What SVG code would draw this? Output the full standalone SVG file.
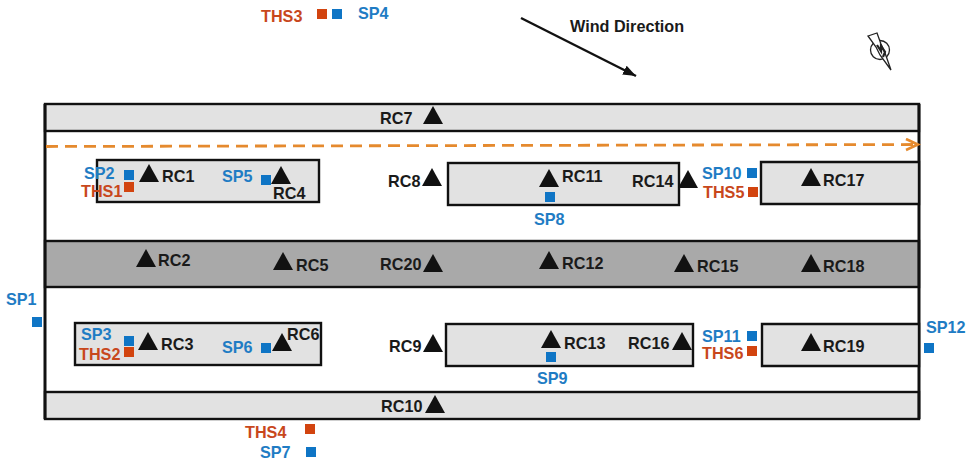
<svg xmlns="http://www.w3.org/2000/svg" width="975" height="462" viewBox="0 0 975 462">
<style>
text{font-family:"Liberation Sans",Arial,sans-serif;font-size:16.2px;font-weight:700;fill:#1a1a1a}
.b{fill:#1f7cc4}.o{fill:#c8471c}
.sb{fill:#0f75c5}.so{fill:#d2440f}
.light{fill:#e2e2e2;stroke:#111;stroke-width:2.4}
.dark{fill:#a9a9a9;stroke:#111;stroke-width:2.4}
.tri{fill:#111}
</style>
<defs>
<path id="t" class="tri" d="M0-10L10 8H-10Z"/>
<rect id="sq" x="-5" y="-5" width="10" height="10"/>
<marker id="ah" markerWidth="16" markerHeight="14" refX="13" refY="7" orient="auto" markerUnits="userSpaceOnUse"><path d="M1 1.500L13 7L1 12.500" fill="none" stroke="#e58a2e" stroke-width="2.600"/></marker>
<marker id="wh" markerWidth="14" markerHeight="12" refX="13" refY="5" orient="auto" markerUnits="userSpaceOnUse"><path d="M0 0L13 5L0 10Z" fill="#111"/></marker>
</defs>
<g id="site">
<rect x="45" y="104" width="874" height="27" class="light"/>
<rect x="45" y="241" width="874" height="46" class="dark"/>
<rect x="45" y="392" width="874" height="27" class="light"/>
<path d="M45 104V419M919 104V419" fill="none" stroke="#111" stroke-width="3"/>
</g>
<g id="blocks">
<rect id="block-1" x="97" y="160" width="222" height="42" class="light"/>
<rect id="block-2" x="448" y="163" width="231" height="42" class="light"/>
<path id="block-3" d="M919 162H761V204H919Z" class="light"/>
<rect id="block-4" x="75" y="323" width="246" height="42" class="light"/>
<rect id="block-5" x="446" y="324" width="247" height="42" class="light"/>
<path id="block-6" d="M919 324H762V366H919Z" class="light"/>
</g>
<g id="connectors">
<line x1="46" y1="146.500" x2="918" y2="144.500" stroke="#e58a2e" stroke-width="2.800" stroke-dasharray="12 7" marker-end="url(#ah)"/>
<line x1="521" y1="18" x2="636" y2="76" stroke="#111" stroke-width="2.400" marker-end="url(#wh)"/>
</g>
<g id="wind"><text x="570" y="32">Wind Direction</text></g>
<g id="north" fill="none" stroke="#222" stroke-width="1.300">
<circle cx="880" cy="50" r="9.500"/>
<path d="M868 36L877 33L881 44L885 53L891 70L880 55L876 47Z" fill="#fff"/>
<path d="M877 45L881 51L881 46L885 52L883 57" stroke-width="2.200"/>
</g>
<g id="RC1"><use href="#t" x="149" y="174"/><text x="162" y="182">RC1</text></g>
<g id="RC2"><use href="#t" x="146" y="259"/><text x="158" y="266">RC2</text></g>
<g id="RC3"><use href="#t" x="148" y="342"/><text x="161" y="350">RC3</text></g>
<g id="RC4"><use href="#t" x="281" y="176"/><text x="273" y="199">RC4</text></g>
<g id="RC5"><use href="#t" x="283" y="262"/><text x="296" y="271">RC5</text></g>
<g id="RC6"><use href="#t" x="282" y="343"/><text x="287" y="340">RC6</text></g>
<g id="RC7"><use href="#t" x="433" y="116"/><text x="380" y="124">RC7</text></g>
<g id="RC8"><use href="#t" x="432" y="178"/><text x="388" y="187">RC8</text></g>
<g id="RC9"><use href="#t" x="433" y="344"/><text x="389" y="352">RC9</text></g>
<g id="RC10"><use href="#t" x="435" y="405"/><text x="381" y="412">RC10</text></g>
<g id="RC11"><use href="#t" x="549" y="179"/><text x="562" y="182">RC11</text></g>
<g id="RC12"><use href="#t" x="549" y="261"/><text x="562" y="269">RC12</text></g>
<g id="RC13"><use href="#t" x="551" y="340"/><text x="564" y="349">RC13</text></g>
<g id="RC14"><use href="#t" x="688" y="180"/><text x="632" y="187">RC14</text></g>
<g id="RC15"><use href="#t" x="684" y="264"/><text x="697" y="272">RC15</text></g>
<g id="RC16"><use href="#t" x="682" y="342"/><text x="628" y="349">RC16</text></g>
<g id="RC17"><use href="#t" x="811" y="178"/><text x="823" y="186">RC17</text></g>
<g id="RC18"><use href="#t" x="811" y="264"/><text x="823" y="272">RC18</text></g>
<g id="RC19"><use href="#t" x="811" y="343"/><text x="823" y="352">RC19</text></g>
<g id="RC20"><use href="#t" x="433" y="264"/><text x="380" y="270">RC20</text></g>
<g id="SP1"><use href="#sq" class="sb" x="37" y="322"/><text class="b" x="6" y="305">SP1</text></g>
<g id="SP2"><use href="#sq" class="sb" x="129" y="175"/><text class="b" x="84" y="179">SP2</text></g>
<g id="SP3"><use href="#sq" class="sb" x="129" y="341"/><text class="b" x="81" y="340">SP3</text></g>
<g id="SP4"><use href="#sq" class="sb" x="337" y="14"/><text class="b" x="358" y="19">SP4</text></g>
<g id="SP5"><use href="#sq" class="sb" x="266" y="180"/><text class="b" x="222" y="182">SP5</text></g>
<g id="SP6"><use href="#sq" class="sb" x="266" y="348"/><text class="b" x="222" y="353">SP6</text></g>
<g id="SP7"><use href="#sq" class="sb" x="311" y="452"/><text class="b" x="260" y="458">SP7</text></g>
<g id="SP8"><use href="#sq" class="sb" x="550" y="197"/><text class="b" x="534" y="225">SP8</text></g>
<g id="SP9"><use href="#sq" class="sb" x="551" y="357"/><text class="b" x="537" y="384">SP9</text></g>
<g id="SP10"><use href="#sq" class="sb" x="752" y="173"/><text class="b" x="702" y="179">SP10</text></g>
<g id="SP11"><use href="#sq" class="sb" x="752" y="336"/><text class="b" x="702" y="342">SP11</text></g>
<g id="SP12"><use href="#sq" class="sb" x="929" y="348"/><text class="b" x="926" y="333">SP12</text></g>
<g id="THS1"><use href="#sq" class="so" x="129" y="187"/><text class="o" x="81" y="197">THS1</text></g>
<g id="THS2"><use href="#sq" class="so" x="129" y="352"/><text class="o" x="79" y="360">THS2</text></g>
<g id="THS3"><use href="#sq" class="so" x="322" y="14"/><text class="o" x="261" y="22">THS3</text></g>
<g id="THS4"><use href="#sq" class="so" x="310" y="429"/><text class="o" x="245" y="438">THS4</text></g>
<g id="THS5"><use href="#sq" class="so" x="753" y="192"/><text class="o" x="703" y="198">THS5</text></g>
<g id="THS6"><use href="#sq" class="so" x="752" y="351"/><text class="o" x="702" y="359">THS6</text></g>
</svg>
